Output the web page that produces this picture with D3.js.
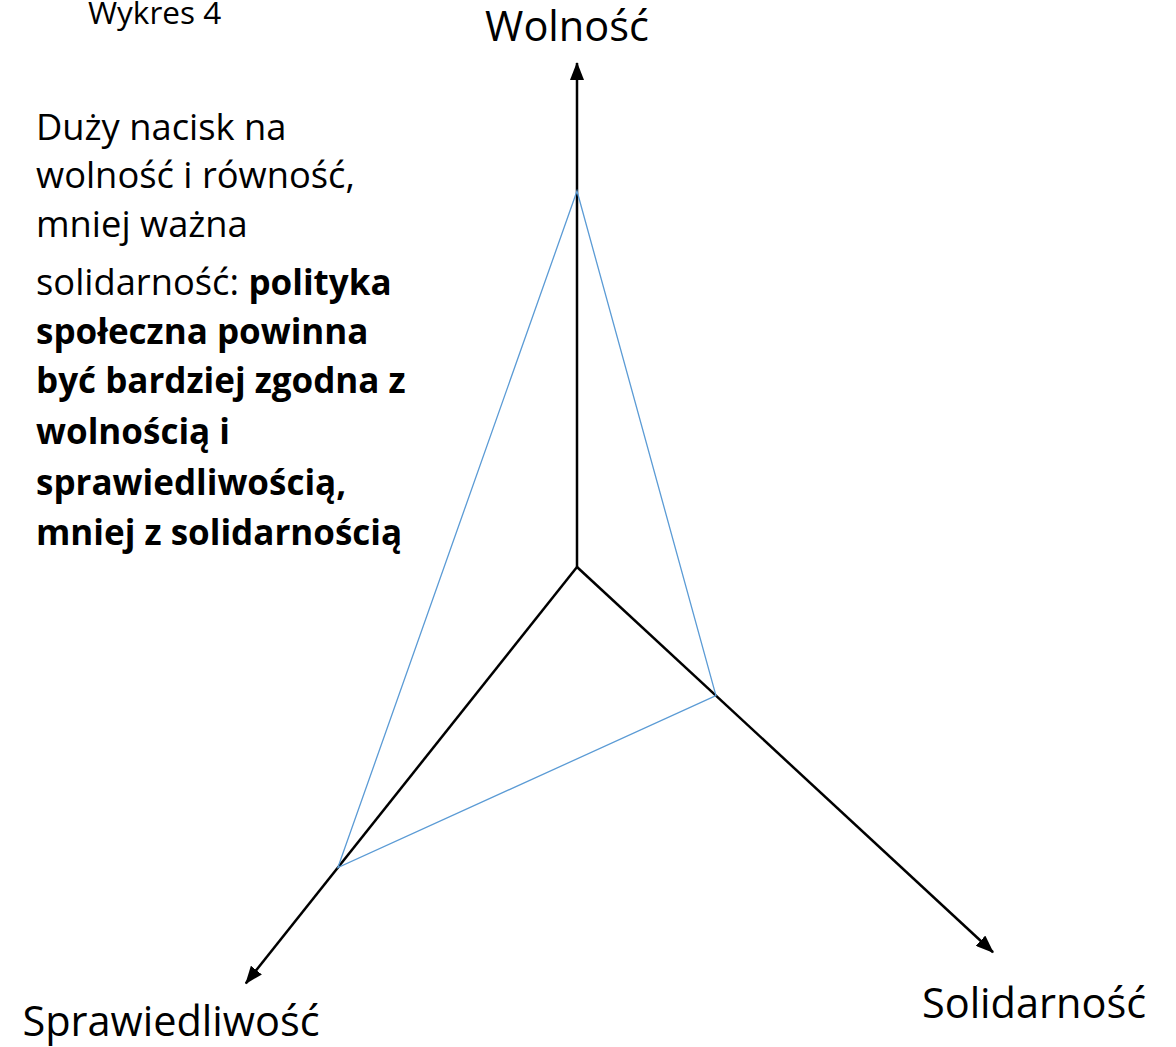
<!DOCTYPE html>
<html>
<head>
<meta charset="utf-8">
<script src="https://cdn.jsdelivr.net/npm/d3@7"></script>
<style>
  body { margin: 0; background: #fff; }
  text { font-family: "Open Sans", "Noto Sans", sans-serif; fill: #000; }
</style>
</head>
<body>
<script>
// axes of the diagram and the blue profile's value on each (0..1 of the axis)
const axes = ['Wolność', 'Solidarność', 'Sprawiedliwość'];
const values = [0.746, 0.334, 0.722];

const title = 'Wykres 4';
const noteLines = [
  [{ t: 'Duży nacisk na', b: false }],
  [{ t: 'wolność i równość,', b: false }],
  [{ t: 'mniej ważna', b: false }],
  [{ t: 'solidarność: ', b: false }, { t: 'polityka', b: true }],
  [{ t: 'społeczna powinna', b: true }],
  [{ t: 'być bardziej zgodna z', b: true }],
  [{ t: 'wolnością i', b: true }],
  [{ t: 'sprawiedliwością,', b: true }],
  [{ t: 'mniej z solidarnością', b: true }]
];

const width = 1176, height = 1047;
const cx = 577, cy = 567;

// direction (degrees) and length of each axis in pixels
const geom = [
  { angle: -90, len: 504 },
  { angle: 42.8, len: 567 },
  { angle: 128.5, len: 532 }
];

const svg = d3.select('body')
  .append('svg')
  .attr('width', width)
  .attr('height', height);

svg.append('defs').append('marker')
  .attr('id', 'arrow')
  .attr('markerUnits', 'userSpaceOnUse')
  .attr('viewBox', '0 0 18 14')
  .attr('markerWidth', 18)
  .attr('markerHeight', 14)
  .attr('refX', 17)
  .attr('refY', 7)
  .attr('orient', 'auto')
  .append('path')
  .attr('d', 'M0,0 L18,7 L0,14 Z')
  .attr('fill', '#000');

// one linear scale per axis, value -> distance from centre
const scales = geom.map(g => d3.scaleLinear().domain([0, 1]).range([0, g.len]));

const point = (i, v) => {
  const a = geom[i].angle * Math.PI / 180;
  const r = scales[i](v);
  return [cx + r * Math.cos(a), cy + r * Math.sin(a)];
};

// axes
svg.selectAll('line.axis')
  .data(axes)
  .enter()
  .append('line')
  .attr('class', 'axis')
  .attr('x1', cx)
  .attr('y1', cy)
  .attr('x2', (d, i) => point(i, 1)[0])
  .attr('y2', (d, i) => point(i, 1)[1])
  .attr('stroke', '#000')
  .attr('stroke-width', 2.5)
  .attr('marker-end', 'url(#arrow)');

// blue profile
svg.append('path')
  .datum(values)
  .attr('d', d3.line()(values.map((v, i) => point(i, v))) + 'Z')
  .attr('fill', 'none')
  .attr('stroke', '#5B9BD5')
  .attr('stroke-width', 1.3)
  .attr('stroke-linejoin', 'miter');

// axis labels
const labelPos = [
  { x: 567, y: 41 },
  { x: 1034, y: 1018 },
  { x: 171, y: 1036 }
];
svg.selectAll('text.axis-label')
  .data(axes)
  .enter()
  .append('text')
  .attr('class', 'axis-label')
  .attr('x', (d, i) => labelPos[i].x)
  .attr('y', (d, i) => labelPos[i].y)
  .attr('text-anchor', 'middle')
  .attr('font-size', 41.5)
  .text(d => d);

// title
svg.append('text')
  .attr('x', 88)
  .attr('y', 24)
  .attr('font-size', 31.5)
  .text(title);

// note
const noteY = [140, 188, 237, 295, 344, 393, 444, 495, 545];
const note = svg.append('text');
noteLines.forEach((line, i) => {
  line.forEach((seg, j) => {
    const ts = note.append('tspan')
      .attr('font-weight', seg.b ? 700 : 400)
      .attr('font-size', seg.b ? 35 : 36.3)
      .text(seg.t);
    if (j === 0) ts.attr('x', 36).attr('y', noteY[i]);
  });
});
</script>
</body>
</html>
